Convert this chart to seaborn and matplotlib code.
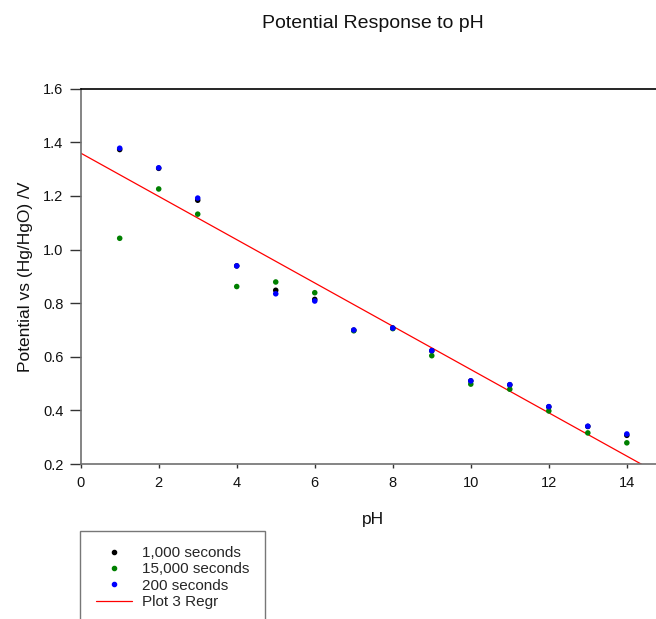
import numpy as np
import pandas as pd
import matplotlib
matplotlib.use("Agg")
import matplotlib.pyplot as plt
import seaborn as sns
from matplotlib.lines import Line2D

sns.set_theme(style="white")
plt.rcParams['font.family'] = ['Liberation Sans', 'DejaVu Sans']

ph = [1, 2, 3, 4, 5, 6, 7, 8, 9, 10, 11, 12, 13, 14]
v_1000 = [1.373, 1.303, 1.184, 0.939, 0.848, 0.814, 0.699, 0.707, 0.622, 0.510, 0.495, 0.413, 0.340, 0.307]
v_15000 = [1.042, 1.226, 1.132, 0.862, 0.879, 0.839, 0.697, 0.705, 0.604, 0.498, 0.479, 0.398, 0.316, 0.279]
v_200 = [1.378, 1.305, 1.192, 0.939, 0.835, 0.808, 0.700, 0.707, 0.623, 0.510, 0.496, 0.414, 0.341, 0.312]
series_names = ["1,000 seconds", "15,000 seconds", "200 seconds"]
series_colors = ["#000000", "#008000", "#0000ff"]
regr_label = "Plot 3 Regr"

df = pd.concat([
    pd.DataFrame({"pH": ph, "V": v, "series": name})
    for v, name in zip([v_1000, v_15000, v_200], series_names)
], ignore_index=True)

fig = plt.figure(figsize=(6.56, 6.19), dpi=100)
ax = fig.add_axes([0.123, 0.2504, 0.892, 0.6063])
ax.set_xlim(0, 15)
ax.set_ylim(0.2, 1.6)

sns.scatterplot(data=df, x="pH", y="V", hue="series", palette=series_colors,
                hue_order=series_names, s=16, edgecolor="none", ax=ax,
                legend=False, zorder=3)
sns.regplot(x=ph, y=v_200, scatter=False, ci=None, truncate=False,
            line_kws=dict(color="#ff0000", lw=0.9), ax=ax)
ax.set_xlim(0, 15)
ax.set_ylim(0.2, 1.6)

ax.set_xticks(range(0, 15, 2))
ax.set_yticks(np.arange(0.2, 1.61, 0.2))
ax.set_yticklabels([f"{t:.1f}" for t in np.arange(0.2, 1.61, 0.2)])
ax.tick_params(axis="both", direction="out", width=1, colors="#333333",
               labelsize=10.5, labelcolor="#111111", bottom=True, left=True)
ax.tick_params(axis="x", length=3, pad=5.5)
ax.tick_params(axis="y", length=8, pad=4.5)
for side in ["left", "bottom"]:
    ax.spines[side].set_color("#707070")
    ax.spines[side].set_linewidth(1.2)
for side in ["top", "right"]:
    ax.spines[side].set_color("#000000")
    ax.spines[side].set_linewidth(1.2)

ax.set_xlabel("pH", fontsize=12.5, labelpad=16, color="#111111")
ax.set_ylabel("Potential vs (Hg/HgO) /V", fontsize=12.5, labelpad=7, color="#111111")
ax.set_title("Potential Response to pH", fontsize=14, pad=43.7, color="#111111")

handles = [Line2D([], [], marker="o", ls="none", color=c, markersize=3) for c in series_colors]
handles.append(Line2D([], [], color="#ff0000", lw=0.9))
leg = fig.legend(handles, series_names + [regr_label], loc="upper left",
                 bbox_to_anchor=(0.1225, 0.1425), fontsize=11, frameon=True,
                 fancybox=False, edgecolor="#555555", borderpad=1.0,
                 handlelength=2.4, handletextpad=0.65, labelspacing=0.15,
                 borderaxespad=0)
leg.get_frame().set_linewidth(1.0)

fig.savefig("out.png", dpi=100)
